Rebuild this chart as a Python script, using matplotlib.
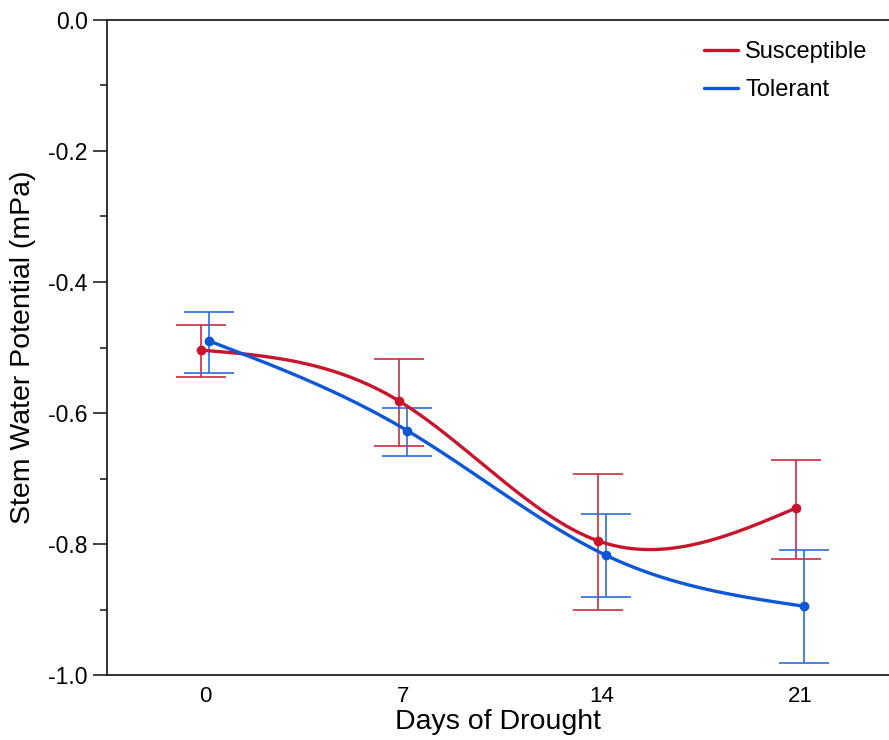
import numpy as np
import matplotlib
matplotlib.use("Agg")
import matplotlib.pyplot as plt
from matplotlib.ticker import MultipleLocator

plt.rcParams['font.family'] = ['Liberation Sans', 'DejaVu Sans']

days = [0, 7, 14, 21]
groups = ["Susceptible", "Tolerant"]

susceptible_mean = [-0.504, -0.582, -0.795, -0.745]
susceptible_hi = [-0.466, -0.518, -0.693, -0.672]
susceptible_lo = [-0.545, -0.650, -0.901, -0.823]

tolerant_mean = [-0.490, -0.627, -0.817, -0.895]
tolerant_hi = [-0.446, -0.592, -0.754, -0.809]
tolerant_lo = [-0.539, -0.666, -0.881, -0.982]

colors = {"Susceptible": "#C8142C", "Tolerant": "#0B57D6"}
bar_colors = {"Susceptible": "#D02A3E", "Tolerant": "#2A6DDC"}


def natural_spline(x, y, n=200):
    # natural cubic spline through the points, just for the smooth line
    x = np.asarray(x, float)
    y = np.asarray(y, float)
    k = len(x)
    h = np.diff(x)
    A = np.zeros((k, k))
    b = np.zeros(k)
    A[0, 0] = A[-1, -1] = 1
    for i in range(1, k - 1):
        A[i, i - 1] = h[i - 1]
        A[i, i] = 2 * (h[i - 1] + h[i])
        A[i, i + 1] = h[i]
        b[i] = 3 * ((y[i + 1] - y[i]) / h[i] - (y[i] - y[i - 1]) / h[i - 1])
    c = np.linalg.solve(A, b)
    xs = np.linspace(x[0], x[-1], n)
    ys = np.empty_like(xs)
    for j, xv in enumerate(xs):
        i = min(np.searchsorted(x, xv, side='right') - 1, k - 2)
        dx = xv - x[i]
        bi = (y[i + 1] - y[i]) / h[i] - h[i] * (2 * c[i] + c[i + 1]) / 3
        di = (c[i + 1] - c[i]) / (3 * h[i])
        ys[j] = y[i] + bi * dx + c[i] * dx ** 2 + di * dx ** 3
    return xs, ys


fig = plt.figure(figsize=(8.89, 7.4), dpi=100)
ax = fig.add_axes([0.1204, 0.0878, 0.8796, 0.8852])

series = {
    "Susceptible": (susceptible_mean, susceptible_lo, susceptible_hi, -0.14),
    "Tolerant": (tolerant_mean, tolerant_lo, tolerant_hi, 0.14),
}

for name in groups:
    mean, lo, hi, shift = series[name]
    xpos = np.array(days) + shift
    mean = np.array(mean)
    yerr = [mean - np.array(lo), np.array(hi) - mean]
    ax.errorbar(xpos, mean, yerr=yerr, fmt='none', ecolor=bar_colors[name],
                elinewidth=1.2, capsize=18, capthick=1.2, zorder=2)
    xs, ys = natural_spline(xpos, mean)
    ax.plot(xs, ys, color=colors[name], lw=2.4, label=name, zorder=3,
            solid_capstyle='round')
    ax.plot(xpos, mean, 'o', color=colors[name], ms=6, zorder=4)

ax.set_xlim(-3.46, 24.14)
ax.set_ylim(-1.0, 0.0)
ax.set_xticks(days)
ax.set_xticklabels([str(d) for d in days])
ax.yaxis.set_major_locator(MultipleLocator(0.2))
ax.yaxis.set_minor_locator(MultipleLocator(0.1))
ax.set_yticklabels([f"{v:.1f}" for v in ax.get_yticks()])

ax.spines['right'].set_visible(False)
for s in ['left', 'bottom', 'top']:
    ax.spines[s].set_linewidth(1.3)
    ax.spines[s].set_color('#222222')

ax.tick_params(axis='x', length=0, pad=8, labelsize=16)
ax.tick_params(axis='y', which='major', length=10, width=1.2,
               color='#222222', labelsize=16.5, pad=4)
ax.tick_params(axis='y', which='minor', length=5, width=1.2,
               color='#222222')

ax.set_xlabel("Days of Drought", fontsize=20.5, labelpad=1)
ax.set_ylabel("Stem Water Potential (mPa)", fontsize=20.5, labelpad=9)

ax.legend(loc='upper right', frameon=False, fontsize=17,
          handlelength=1.45, handletextpad=0.3, labelspacing=0.68,
          bbox_to_anchor=(1.0, 1.0))

fig.savefig("out.png", dpi=100)
